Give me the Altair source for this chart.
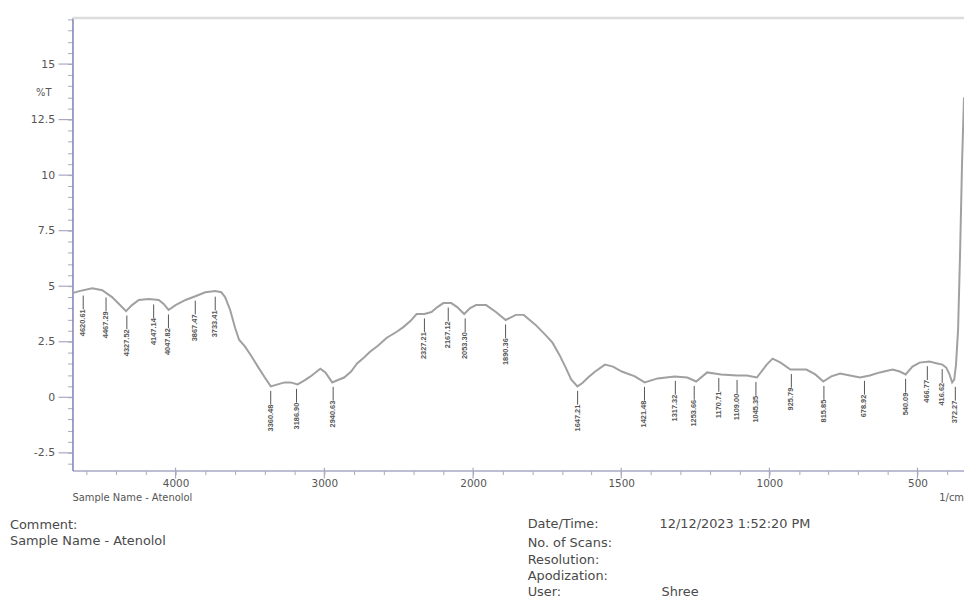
import altair as alt
import pandas as pd

# ---- spectrum (wavenumber in 1/cm, %T) ----
wavenumber = [4693, 4647, 4560, 4493, 4427, 4380, 4333, 4293, 4247, 4180, 4113, 4080, 4047, 4000,
              3933, 3867, 3800, 3733, 3693, 3667, 3633, 3600, 3573, 3533, 3493, 3447, 3400, 3360,
              3313, 3267, 3227, 3180, 3133, 3093, 3027, 2993, 2947, 2900, 2867, 2820, 2780, 2733,
              2693, 2640, 2580, 2513, 2467, 2420, 2380, 2327, 2280, 2240, 2200, 2147, 2107, 2060,
              2020, 1990, 1956, 1923, 1890, 1856, 1829, 1789, 1756, 1732, 1709, 1689, 1669, 1648,
              1632, 1612, 1588, 1555, 1528, 1498, 1454, 1421, 1377, 1320, 1277, 1247, 1210, 1163,
              1109, 1076, 1042, 1009, 989, 962, 929, 875, 845, 818, 791, 761, 728, 694, 661, 627,
              584, 560, 540, 517, 493, 460, 433, 416, 403, 393, 383, 376, 370, 363, 356, 349.5, 343]
transmittance = [4.69, 4.78, 4.91, 4.82, 4.51, 4.20, 3.88, 4.15, 4.38, 4.42, 4.38, 4.20, 3.93, 4.15,
                 4.38, 4.55, 4.73, 4.78, 4.73, 4.51, 3.93, 3.13, 2.59, 2.28, 1.88, 1.38, 0.89, 0.49,
                 0.58, 0.67, 0.67, 0.58, 0.76, 0.94, 1.29, 1.12, 0.67, 0.80, 0.89, 1.16, 1.52, 1.79,
                 2.05, 2.32, 2.68, 2.95, 3.17, 3.44, 3.75, 3.75, 3.84, 4.06, 4.24, 4.24, 4.06, 3.75,
                 4.02, 4.15, 4.15, 3.84, 3.48, 3.71, 3.71, 3.26, 2.81, 2.46, 1.92, 1.38, 0.80, 0.49,
                 0.63, 0.89, 1.16, 1.47, 1.38, 1.16, 0.94, 0.67, 0.85, 0.94, 0.89, 0.71, 1.12, 1.03,
                 0.98, 0.98, 0.89, 1.47, 1.74, 1.56, 1.25, 1.25, 1.03, 0.71, 0.94, 1.07, 0.98, 0.89,
                 0.98, 1.12, 1.25, 1.16, 1.03, 1.38, 1.56, 1.61, 1.52, 1.47, 1.34, 1.07, 0.67, 0.80,
                 1.47, 3.04, 6.61, 10.6, 13.5]

# ---- labelled peaks ----
peak_wn = [4620.61, 4467.29, 4327.52, 4147.14, 4047.82, 3867.47, 3733.41, 3360.48, 3186.90,
           2940.63, 2327.21, 2167.12, 2053.30, 1890.36, 1647.21, 1421.48, 1317.32, 1253.66,
           1170.71, 1109.00, 1045.35, 925.79, 815.85, 678.92, 540.09, 466.77, 416.62, 372.27]
peak_t = [4.78, 4.69, 3.88, 4.38, 3.93, 4.55, 4.73, 0.49, 0.58, 0.67, 3.75, 4.24, 3.75, 3.48,
          0.49, 0.67, 0.94, 0.71, 1.07, 0.98, 0.89, 1.25, 0.71, 0.94, 1.03, 1.60, 1.47, 0.67]
peak_label = ["4620.61", "4467.29", "4327.52", "4147.14", "4047.82", "3867.47", "3733.41",
              "3360.48", "3186.90", "2940.63", "2327.21", "2167.12", "2053.30", "1890.36",
              "1647.21", "1421.48", "1317.32", "1253.66", "1170.71", "1109.00", "1045.35",
              "925.79", "815.85", "678.92", "540.09", "466.77", "416.62", "372.27"]

# ---- axis ticks ----
x_major = [4000, 3000, 2000, 1500, 1000, 500]
x_ticks = [4600, 4400, 4200, 4000, 3800, 3600, 3400, 3200, 3000, 2800, 2600, 2400, 2200, 2000,
           1900, 1800, 1700, 1600, 1500, 1400, 1300, 1200, 1100, 1000, 900, 800, 700, 600, 500, 400]
y_major = [-2.5, 0, 2.5, 5, 7.5, 10, 12.5, 15]
y_ticks = [-3 + 0.5 * i for i in range(41)]

# ---- text ----
y_title = "%T"
x_unit = "1/cm"
sample_line = "Sample Name  -  Atenolol"
comment = "Comment:"
info_keys = ["Date/Time:", "No. of Scans:", "Resolution:", "Apodization:", "User:"]
date_value = "12/12/2023 1:52:20 PM"
user_value = "Shree"

W, H = 899, 457
FONT = "DejaVu Sans"
TXT = "#4a4a4a"

spec = pd.DataFrame({"wn": wavenumber, "t": transmittance})
peaks = pd.DataFrame({"wn": peak_wn, "t": peak_t, "label": peak_label})
peaks["top"] = peaks["t"] - 0.2
peaks["bot"] = peaks["t"] - 0.82

xs = alt.Scale(domain=[4693, 2000, 343], range=[0, 404, W], nice=False, zero=False)
ys = alt.Scale(domain=[-3.3, 17.1], nice=False, zero=False)

x_axis = alt.Axis(values=x_ticks, title="", grid=False, tickSize=4, tickColor="#a8a8c4",
                  domainColor="#a8a8c4", domainWidth=1.5,
                  labelExpr="datum.value % 500 == 0 && (datum.value <= 2000 || datum.value % 1000 == 0) ? '' + datum.value : ''",
                  labelFont=FONT, labelFontSize=10.5, labelColor="#555", labelPadding=4,
                  labelOverlap=False, labelFlush=False)
y_axis = alt.Axis(values=y_ticks, title="", grid=False, tickSize=5, tickColor="#a8a8c4",
                  domainColor="#8080b8", domainWidth=1.5,
                  labelExpr="abs(datum.value % 2.5) < 0.001 ? '' + datum.value : ''",
                  labelFont=FONT, labelFontSize=11, labelColor="#555", labelPadding=13,
                  labelOverlap=False, labelFlush=False)

curve = alt.Chart(spec).mark_line(color="#a0a0a0", strokeWidth=2).encode(
    x=alt.X("wn:Q", scale=xs, axis=x_axis),
    y=alt.Y("t:Q", scale=ys, axis=y_axis),
)

peak_rules = alt.Chart(peaks).mark_rule(color="#555", strokeWidth=1).encode(
    x=alt.X("wn:Q", scale=xs, axis=x_axis), y=alt.Y("top:Q", scale=ys, axis=y_axis), y2="bot:Q"
)
peak_text = alt.Chart(peaks).mark_text(angle=270, align="right", baseline="middle",
                                       font="Liberation Sans", fontSize=7.5, fontWeight="bold",
                                       color="#555").encode(
    x=alt.X("wn:Q", scale=xs, axis=x_axis), y=alt.Y("bot:Q", scale=ys, axis=y_axis), text="label:N"
)

xmaj = alt.Chart(pd.DataFrame({"v": x_major})).mark_rule(color="#a8a8c4", strokeWidth=1.2).encode(
    x=alt.X("v:Q", scale=xs, axis=x_axis), y=alt.value(H - 3), y2=alt.value(H + 8)
)
ymaj = alt.Chart(pd.DataFrame({"v": y_major})).mark_rule(color="#a8a8c4", strokeWidth=1.2).encode(
    y=alt.Y("v:Q", scale=ys, axis=y_axis), x=alt.value(-14), x2=alt.value(0)
)
top_border = alt.Chart(pd.DataFrame({"v": [0]})).mark_rule(color="#dcdcdc", strokeWidth=2.5).encode(
    x=alt.value(0), x2=alt.value(W), y=alt.value(0.5)
)


def label(text, x, y, size=13, align="left", color=TXT):
    return alt.Chart(pd.DataFrame({"s": [text]})).mark_text(
        align=align, baseline="middle", font=FONT, fontSize=size, color=color
    ).encode(x=alt.value(x), y=alt.value(y), text="s:N")


texts = [
    label(y_title, -29, 76, size=10, align="center", color="#555"),
    label(x_unit, W, 485, size=10, align="right", color="#555"),
    label(sample_line, 0, 485, size=10, color="#555"),
    label(comment, -63, 512),
    label(sample_line, -63, 528),
    label(date_value, 592, 511),
    label(user_value, 594, 579),
]
for i, k in enumerate(info_keys):
    texts.append(label(k, 459, [511, 530, 547, 563, 579][i]))

chart = alt.layer(curve, top_border, peak_rules, peak_text, xmaj, ymaj, *texts).properties(
    width=W, height=H,
    autosize=alt.AutoSizeParams(type="none"),
    padding={"left": 65, "top": 7, "right": 0, "bottom": 129},
    background="white",
).configure_view(strokeWidth=0).configure_axis(labelOverlap=False)

chart.save("out.html", embed_options={"renderer": "svg", "actions": False})
